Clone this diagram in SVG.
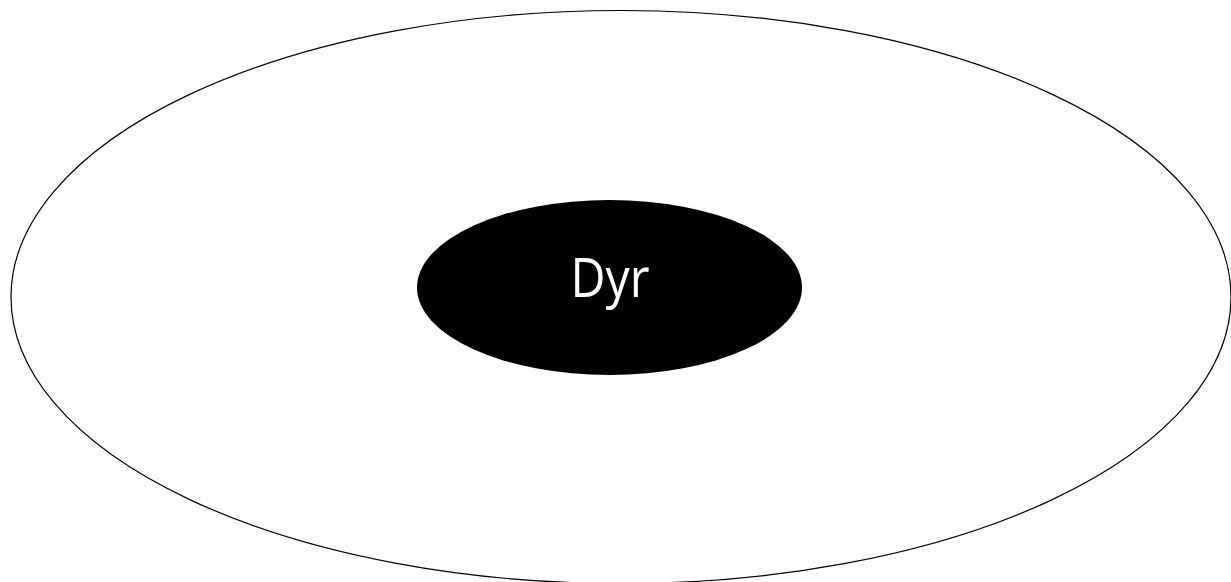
<svg xmlns="http://www.w3.org/2000/svg" width="1231" height="582" viewBox="0 0 1231 582">
<style>
.outer{fill:none;stroke:#000;stroke-width:1.2}
.inner{fill:#000;stroke:none}
.lbl{font-family:"Open Sans","Liberation Sans",sans-serif;font-size:54px;fill:#fff;text-anchor:middle}
</style>
<rect width="1231" height="582" fill="#fff"/>
<g id="outer-node">
<ellipse class="outer" cx="621" cy="297" rx="610" ry="286.5"/>
</g>
<g id="dyr-node">
<ellipse class="inner" cx="609.5" cy="287.5" rx="192.5" ry="87.5"/>
<text class="lbl" x="610" y="297" textLength="79" lengthAdjust="spacingAndGlyphs">Dyr</text>
</g>
<g id="connectors"/>
</svg>
